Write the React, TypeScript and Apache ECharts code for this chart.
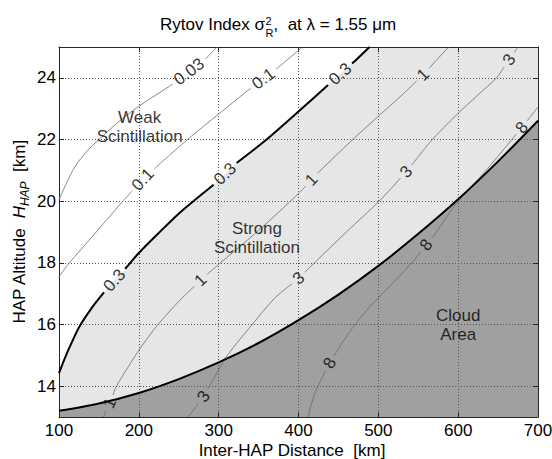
import React, { useEffect, useRef } from "react";
import * as echarts from "echarts";

type P = [number, number];

// ---------- data ----------
const xTicks = [100, 200, 300, 400, 500, 600, 700];
const yTicks = [14, 16, 18, 20, 22, 24];

// contour sigma_R^2 = 0.03
const c003: P[] = [[100, 20.05], [110, 20.62], [120, 21.12], [135, 21.62], [150, 22.0], [175, 22.58], [200, 23.08], [238, 23.72], [263, 24.2], [284, 24.62], [298, 25]];
// contour 0.1
const c01: P[] = [[100, 17.55], [113, 18.0], [142, 18.86], [180, 20.0], [205, 20.7], [230, 21.3], [261, 22.0], [301, 22.85], [340, 23.66], [372, 24.28], [405, 25]];
// contour 0.3 (thick)
const c03: P[] = [[100, 14.42], [108, 14.95], [116, 15.42], [126, 15.95], [140, 16.5], [155, 17.0], [170, 17.45], [184, 17.84], [200, 18.32], [225, 18.97], [251, 19.62], [294, 20.54], [322, 21.23], [360, 22.0], [401, 22.93], [437, 23.77], [470, 24.53], [489, 25]];
// contour 1
const c1: P[] = [[155.5, 13.0], [163.5, 13.45], [172, 14.0], [186, 14.6], [201, 15.2], [224, 16.0], [252, 16.8], [278, 17.45], [300, 17.95], [350, 19.05], [401, 20.27], [426, 20.96], [468, 22.0], [502, 22.8], [530, 23.45], [556, 24.1], [588, 25]];
// contour 3
const c3: P[] = [[262, 13.0], [272, 13.35], [281, 13.67], [295, 14.3], [310, 14.97], [342, 16.0], [370, 16.85], [400, 17.5], [422, 18.05], [460, 19.0], [501, 20.0], [535, 20.95], [566, 21.95], [598, 22.8], [625, 23.45], [648, 24.0], [675, 25]];
// contour 8
const c8: P[] = [[412, 13.0], [416, 13.4], [421, 13.8], [428, 14.2], [438, 14.7], [452, 15.3], [468, 15.9], [485, 16.45], [504, 16.97], [542, 18.0], [570, 18.9], [600, 20.0], [635, 21.0], [680, 22.4], [700, 23.05]];
// cloud top boundary (thick)
const cloud: P[] = [[100, 13.2], [150, 13.44], [200, 13.78], [250, 14.23], [300, 14.77], [350, 15.4], [400, 16.14], [450, 16.97], [500, 17.9], [550, 18.94], [600, 20.06], [650, 21.29], [700, 22.61]];

// in-line contour label positions
const lab003: P[] = [[263, 24.2]];
const lab01: P[] = [[205, 20.7], [357, 23.94]];
const lab03: P[] = [[170, 17.42], [309, 20.86], [453, 24.1]];
const lab1: P[] = [[163.5, 13.45], [278, 17.42], [417, 20.68], [556, 24.1]];
const lab3: P[] = [[281, 13.67], [400, 17.5], [535, 20.95], [663, 24.6]];
const lab8: P[] = [[442, 14.7], [560, 18.58], [680, 22.38]];

// region annotations
const noteText = ["Weak\nScintillation", "Strong\nScintillation", "Cloud\nArea"];
const notePos: P[] = [[201, 22.4], [348, 18.79], [600, 15.98]];

// ---------- layout / style ----------
const FONT = "'Liberation Sans', Arial, Helvetica, sans-serif";
const W = 552, H = 459;
const GRID = { left: 59, top: 47, right: 14, bottom: 42 };
const PW = W - GRID.left - GRID.right;
const PH = H - GRID.top - GRID.bottom;
const X_MIN = 100, X_MAX = 700, Y_MIN = 13, Y_MAX = 25;
const KX = PW / (X_MAX - X_MIN), KY = PH / (Y_MAX - Y_MIN);
const FS = 17;
const LABEL_FS = 17;
const GAP_PAD = 4;
const THIN = "#6b6b6b";
const LIGHT = "#e6e6e6";
const DARK = "#a0a0a0";
const AXIS = "#262626";
const GRIDC = "#555555";

const toPix = (p: P): P => [(p[0] - X_MIN) * KX, (p[1] - Y_MIN) * KY];
const toData = (q: P): P => [q[0] / KX + X_MIN, q[1] / KY + Y_MIN];
const lerp = (a: P, b: P, t: number): P => [a[0] + (b[0] - a[0]) * t, a[1] + (b[1] - a[1]) * t];

function textWidth(t: string, size: number) {
  const cv = document.createElement("canvas");
  const ctx = cv.getContext("2d");
  if (!ctx) return t.length * size * 0.55;
  ctx.font = `${size}px ${FONT}`;
  return ctx.measureText(t).width;
}

function project(pix: P[], c: P) {
  let best = { d: Infinity, q: pix[0] as P, ang: 0 };
  for (let i = 0; i < pix.length - 1; i++) {
    const A = pix[i], B = pix[i + 1];
    const dx = B[0] - A[0], dy = B[1] - A[1];
    let t = ((c[0] - A[0]) * dx + (c[1] - A[1]) * dy) / (dx * dx + dy * dy);
    t = Math.max(0, Math.min(1, t));
    const q: P = [A[0] + t * dx, A[1] + t * dy];
    const d = Math.hypot(q[0] - c[0], q[1] - c[1]);
    if (d < best.d) best = { d, q, ang: (Math.atan2(dy, dx) * 180) / Math.PI };
  }
  return best;
}

function segInside(A: P, B: P, C: P, r: number): [number, number] | null {
  const dx = B[0] - A[0], dy = B[1] - A[1];
  const fx = A[0] - C[0], fy = A[1] - C[1];
  const a = dx * dx + dy * dy, b = 2 * (fx * dx + fy * dy), c = fx * fx + fy * fy - r * r;
  const disc = b * b - 4 * a * c;
  if (disc <= 0) return null;
  const s = Math.sqrt(disc);
  const lo = Math.max(0, (-b - s) / (2 * a)), hi = Math.min(1, (-b + s) / (2 * a));
  if (lo >= hi) return null;
  return [lo, hi];
}

function buildCurve(pts: P[], labs: P[], text: string) {
  const pix = pts.map(toPix);
  const r = textWidth(text, LABEL_FS) / 2 + GAP_PAD;
  const marks = labs.map((l) => project(pix, toPix(l)));
  const out: any[] = [];
  let pen = false;
  for (let i = 0; i < pix.length - 1; i++) {
    const A = pix[i], B = pix[i + 1];
    const hid = marks
      .map((m) => segInside(A, B, m.q, r))
      .filter((h): h is [number, number] => !!h)
      .sort((a, b) => a[0] - b[0]);
    const vis: [number, number][] = [];
    let cur = 0;
    for (const [lo, hi] of hid) {
      if (lo > cur) vis.push([cur, lo]);
      cur = Math.max(cur, hi);
    }
    if (cur < 1) vis.push([cur, 1]);
    if (!vis.length) pen = false;
    for (const [u, v] of vis) {
      if (!(pen && u === 0)) {
        if (out.length) out.push(["-", "-"]);
        out.push(toData(lerp(A, B, u)));
      }
      out.push(toData(lerp(A, B, v)));
      pen = v === 1;
    }
  }
  const labels = marks.map((m) => ({
    value: toData(m.q),
    name: text,
    label: { rotate: m.ang },
  }));
  return { data: out, labels };
}

const contourDefs = [
  { pts: c003, labs: lab003, text: "0.03", thick: false },
  { pts: c01, labs: lab01, text: "0.1", thick: false },
  { pts: c03, labs: lab03, text: "0.3", thick: true },
  { pts: c1, labs: lab1, text: "1", thick: false },
  { pts: c3, labs: lab3, text: "3", thick: false },
  { pts: c8, labs: lab8, text: "8", thick: false },
];

export default function App() {
  const ref = useRef<HTMLDivElement>(null);
  useEffect(() => {
    if (!ref.current) return;
    const chart = echarts.init(ref.current, undefined, { renderer: "svg" });
    const SMOOTH = 0.3;
    const built = contourDefs.map((d) => ({ ...d, ...buildCurve(d.pts, d.labs, d.text) }));
    const allLabels = built.flatMap((b) => b.labels);

    const fill = (data: P[], origin: string, color: string) => ({
      type: "line",
      data,
      smooth: SMOOTH,
      symbol: "none",
      silent: true,
      z: 1,
      lineStyle: { width: 0, opacity: 0 },
      areaStyle: { color, opacity: 1, origin },
    });

    const axisCommon = {
      type: "value",
      z: 3,
      axisLine: { show: true, onZero: false, lineStyle: { color: AXIS, width: 1 } },
      splitLine: { show: false },
    };

    const option: any = {
      animation: false,
      backgroundColor: "#ffffff",
      grid: { ...GRID, containLabel: false, outerBoundsMode: "none" },
      xAxis: [
        {
          ...axisCommon,
          min: X_MIN,
          max: X_MAX,
          position: "bottom",
          axisTick: { show: true, inside: true, length: 5, lineStyle: { color: AXIS }, customValues: xTicks },
          axisLabel: { customValues: xTicks, color: "#000", fontSize: FS, fontFamily: FONT, margin: 5, lineHeight: 17 },
          splitLine: { show: true, lineStyle: { color: GRIDC, width: 1, type: [1, 2] } },
        },
        {
          ...axisCommon,
          min: X_MIN,
          max: X_MAX,
          position: "top",
          axisTick: { show: true, inside: true, length: 5, lineStyle: { color: AXIS }, customValues: xTicks },
          axisLabel: { show: false },
        },
      ],
      yAxis: [
        {
          ...axisCommon,
          min: Y_MIN,
          max: Y_MAX,
          position: "left",
          axisTick: { show: true, inside: true, length: 5, lineStyle: { color: AXIS }, customValues: yTicks },
          axisLabel: { customValues: yTicks, color: "#000", fontSize: FS, fontFamily: FONT, margin: 3 },
          splitLine: { show: true, lineStyle: { color: GRIDC, width: 1, type: [1, 2] } },
        },
        {
          ...axisCommon,
          min: Y_MIN,
          max: Y_MAX,
          position: "right",
          axisTick: { show: true, inside: true, length: 5, lineStyle: { color: AXIS }, customValues: yTicks },
          axisLabel: { show: false },
        },
      ],
      series: [
        fill(cloud, "start", DARK),
        fill(cloud, "end", LIGHT),
        fill(c03, "end", "#ffffff"),
        ...built.map((b) => ({
          type: "line",
          data: b.data,
          smooth: SMOOTH,
          symbol: "none",
          silent: true,
          connectNulls: false,
          z: 4,
          lineStyle: { color: b.thick ? "#000" : THIN, width: b.thick ? 2 : 0.8 },
        })),
        {
          type: "line",
          data: cloud,
          smooth: SMOOTH,
          symbol: "none",
          silent: true,
          z: 4,
          lineStyle: { color: "#000", width: 2 },
        },
        {
          type: "scatter",
          data: allLabels,
          symbolSize: 1,
          silent: true,
          z: 5,
          itemStyle: { color: "rgba(0,0,0,0)" },
          label: {
            show: true,
            position: "inside",
            formatter: "{b}",
            color: "#000",
            fontSize: LABEL_FS,
            fontFamily: FONT,
          },
        },
        {
          type: "scatter",
          data: notePos.map((p, i) => ({ value: p, name: noteText[i] })),
          symbolSize: 1,
          silent: true,
          z: 5,
          itemStyle: { color: "rgba(0,0,0,0)" },
          label: {
            show: true,
            position: "inside",
            formatter: "{b}",
            color: "#000",
            fontSize: FS,
            lineHeight: 19,
            fontFamily: FONT,
            align: "center",
          },
        },
      ],
      graphic: [
        {
          type: "text",
          x: 265,
          y: 24.5,
          z: 10,
          style: { text: "Rytov Index σ", font: `${FS}px ${FONT}`, fill: "#000", align: "right", verticalAlign: "middle" },
        },
        {
          type: "text",
          x: 265.5,
          y: 20.5,
          z: 10,
          style: { text: "2", font: `11px ${FONT}`, fill: "#000", align: "left", verticalAlign: "middle" },
        },
        {
          type: "text",
          x: 265.5,
          y: 33,
          z: 10,
          style: { text: "R", font: `11px ${FONT}`, fill: "#000", align: "left", verticalAlign: "middle" },
        },
        {
          type: "text",
          x: 273.5,
          y: 24.5,
          z: 10,
          style: { text: ",  at λ = 1.55 μm", font: `${FS}px ${FONT}`, fill: "#000", align: "left", verticalAlign: "middle" },
        },
        {
          type: "text",
          x: 292,
          y: 450,
          z: 10,
          style: { text: "Inter-HAP Distance  [km]", font: `${FS}px ${FONT}`, fill: "#000", align: "center", verticalAlign: "middle" },
        },
        {
          type: "text",
          x: 19,
          y: GRID.top + PH / 2,
          rotation: Math.PI / 2,
          z: 10,
          style: {
            text: "{n|HAP Altitude  }{h|H}{s|HAP}{n|  [km]}",
            align: "center",
            verticalAlign: "middle",
            fill: "#000",
            rich: {
              n: { fontSize: FS, fontFamily: FONT, fill: "#000" },
              h: { fontSize: FS, fontFamily: FONT, fontStyle: "italic", fill: "#000" },
              s: { fontSize: 12, fontFamily: FONT, fontStyle: "italic", fill: "#000", padding: [11, 0, 0, 0] },
            },
          },
        },
      ],
    };
    chart.setOption(option);
    return () => chart.dispose();
  }, []);
  return <div ref={ref} style={{ position: "absolute", left: 0, top: 0, width: W, height: H }} />;
}
